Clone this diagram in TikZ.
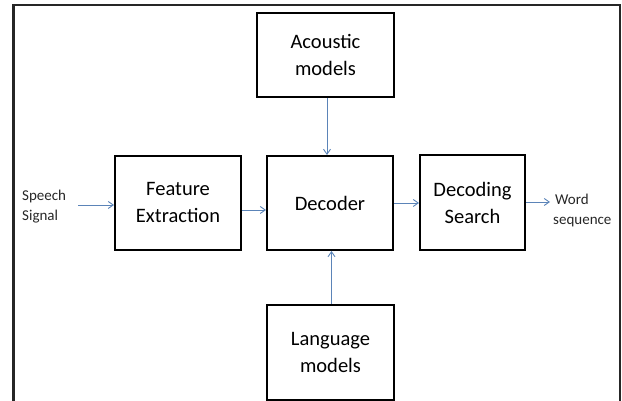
\documentclass[tikz,border=0pt]{standalone}
\usepackage{fontspec}
\setmainfont{Carlito}
\usetikzlibrary{arrows.meta}
\definecolor{arrowblue}{HTML}{5B84B8}
\begin{document}
\begin{tikzpicture}[x=1pt,y=1pt,
  blk/.style={draw=black,line width=2pt,fill=white,align=center,inner sep=0pt,
    font=\fontsize{20.5}{27}\selectfont},
  lbl/.style={align=left,inner sep=0pt,anchor=west,font=\fontsize{15}{20}\selectfont,text=black!85},
  arr/.style={draw=arrowblue,line width=0.9pt,-{Straight Barb[length=5pt,width=7pt]}}]
\useasboundingbox (0,0) rectangle (622,401);
% outer frame (open at the bottom)
\draw[line width=2.2pt,black!85] (13.5,-5) -- (13.5,396) -- (620,396) -- (620,-5);
% blocks
\node[blk,minimum width=126,minimum height=94] (fe) at (178,198) {Feature\\Extraction};
\node[blk,minimum width=126,minimum height=94] (dec) at (330,198) {Decoder};
\node[blk,minimum width=105,minimum height=95] (ds) at (472.5,198.5) {Decoding\\Search};
\node[blk,minimum width=137,minimum height=84] (ac) at (325.5,346) {Acoustic\\models};
\node[blk,minimum width=127,minimum height=95] (lm) at (330.5,48.5) {Language\\models};
% side labels
\node[lbl] (sp) at (22,194) {Speech\\Signal};
\node[lbl] (ws) at (553,190) {\hspace*{2pt}Word\\sequence};
% connectors
\coordinate (spend) at (78,196);
\coordinate (wsend) at (550,199);
\draw[arr] (spend) -- (spend -| fe.west);
\draw[arr] (fe.east |- 0,191) -- (dec.west |- 0,191);
\draw[arr] (dec.east |- 0,198) -- (ds.west |- 0,198);
\draw[arr] (ds.east |- 0,199) -- (wsend);
\draw[arr] (ac.south -| 327,0) -- (dec.north -| 327,0);
\draw[arr] (lm.north -| 331.5,0) -- (dec.south -| 331.5,0);
\end{tikzpicture}
\end{document}
